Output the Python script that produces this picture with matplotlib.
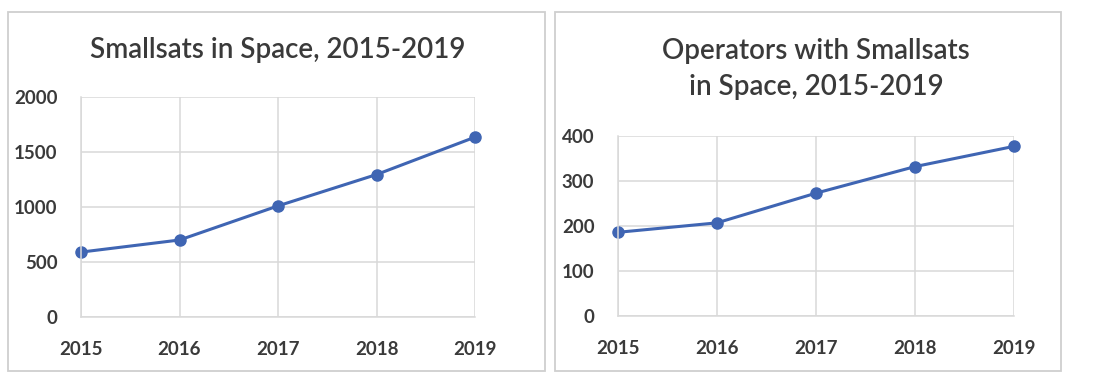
import matplotlib
matplotlib.use("Agg")
import matplotlib.pyplot as plt
from matplotlib.patches import Rectangle

years = [2015, 2016, 2017, 2018, 2019]
smallsats = [590, 700, 1010, 1295, 1635]
operators = [186, 207, 273, 332, 377]

W, H = 1096, 385
LINE = "#3f65b3"
TEXT = "#3a3a3a"
GRID = "#d9d9d9"

plt.rcParams["font.family"] = ["Lato", "DejaVu Sans"]

fig = plt.figure(figsize=(W / 100, H / 100), dpi=100)


def px_axes(x0, y0, x1, y1):
    # pixel box (top-left origin) -> figure fraction
    return fig.add_axes([x0 / W, 1 - y1 / H, (x1 - x0) / W, (y1 - y0) / H])


def panel_box(x0, y0, x1, y1):
    fig.patches.append(Rectangle((x0 / W, 1 - y1 / H), (x1 - x0) / W, (y1 - y0) / H,
                                 transform=fig.transFigure, fill=False,
                                 edgecolor="#cfcfcf", linewidth=1.3))


def draw(ax, values, ymax, step, title, title_y):
    ax.plot(years, values, color=LINE, linewidth=2.2, marker="o", markersize=8,
            clip_on=False)
    ax.set_xlim(years[0], years[-1])
    ax.set_ylim(0, ymax)
    ax.set_xticks(years)
    ax.set_yticks(range(0, ymax + 1, step))
    ax.grid(True, color=GRID, linewidth=1.1)
    ax.set_axisbelow(True)
    for s in ["top", "right"]:
        ax.spines[s].set_visible(False)
    for s in ["left", "bottom"]:
        ax.spines[s].set_color(GRID)
        ax.spines[s].set_linewidth(1.1)
    ax.tick_params(length=0, labelsize=13.5, labelcolor=TEXT)
    ax.tick_params(axis="x", pad=17)
    ax.tick_params(axis="y", pad=17)
    for lab in ax.get_xticklabels() + ax.get_yticklabels():
        lab.set_fontweight("bold")
    pos = ax.get_position()
    fig.text(pos.x0 + pos.width / 2, 1 - title_y / H, title,
             ha="center", va="center", fontsize=20, fontweight="semibold",
             color=TEXT, linespacing=1.45)


panel_box(8, 12, 545, 371)
panel_box(555, 12, 1061, 371)

ax1 = px_axes(81, 97, 475, 317)
draw(ax1, smallsats, 2000, 500, "Smallsats in Space, 2015-2019", 50)

ax2 = px_axes(618, 136, 1014, 316)
draw(ax2, operators, 400, 100, "Operators with Smallsats\nin Space, 2015-2019", 69)

fig.savefig("out.png", dpi=100)
